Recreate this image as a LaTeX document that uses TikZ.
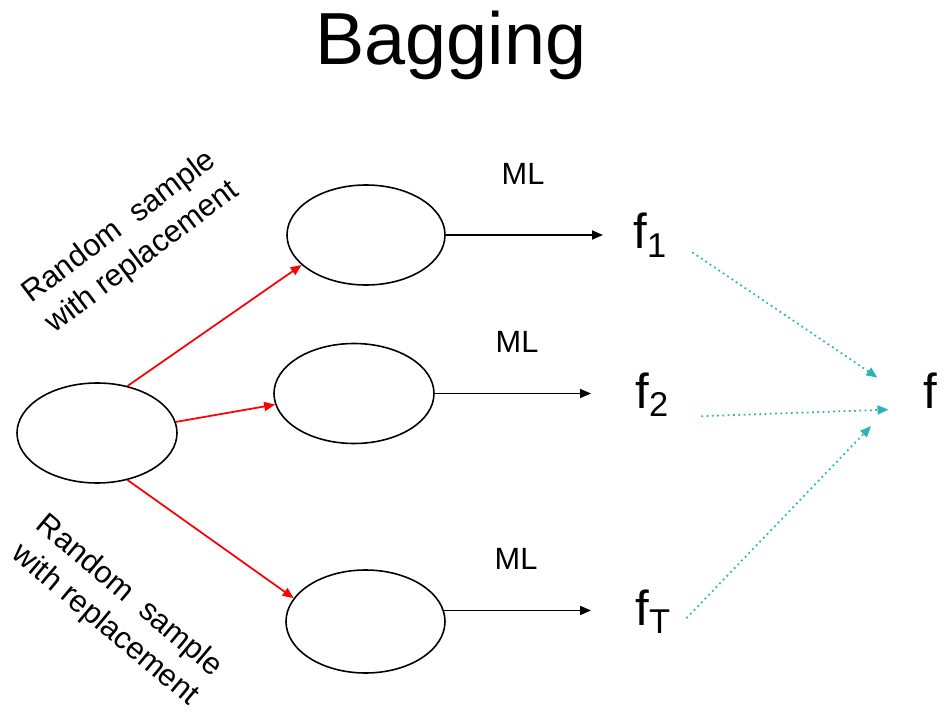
\documentclass[tikz,border=0pt]{standalone}
\usepackage{fontspec}
\setmainfont{Liberation Sans}
\usepackage{tikz}
\usepackage{xcolor}
\usetikzlibrary{arrows.meta,shapes.geometric}
\definecolor{aqua}{RGB}{40,180,185}

\begin{document}
\begin{tikzpicture}[scale=1, every node/.style={inner sep=0pt},
    bag/.style={draw, ellipse, line width=0.9pt, minimum width=3.2cm, minimum height=2cm},
    learn/.style={-{Triangle[length=2.2mm, width=1.8mm]}, line width=1pt},
    sample/.style={learn, red},
    vote/.style={-{Triangle[length=2.2mm, width=1.8mm]}, aqua, dotted, line width=1pt},
    small/.style={font=\fontsize{17.5}{21.5}\selectfont},
    big/.style={font=\fontsize{28}{34}\selectfont, anchor=base west}]
  \useasboundingbox (0, 0) rectangle (18.9, 14.22);
  \node[anchor=base, font=\fontsize{42}{50}\selectfont] (title) at (9.02, 12.92) {Bagging};
  \node[bag] (d0) at (1.94, 5.56) {};
  \node[bag, minimum width=3.16cm] (d1) at (7.32, 9.52) {};
  \node[bag] (d2) at (7.08, 6.35) {};
  \node[bag, minimum width=3.18cm, minimum height=2.06cm] (dT) at (7.31, 1.79) {};
  \node[small, rotate=37, align=center] (rs1) at (2.62, 9.37) {Random\ \ sample\\with replacement};
  \node[small, rotate=-40, align=center] (rsT) at (2.34, 2.0) {Random\ \ sample\\with replacement};
  \node[small, anchor=base] (ml1) at (10.46, 10.52) {ML};
  \node[small, anchor=base] (ml2) at (10.34, 7.18) {ML};
  \node[small, anchor=base] (mlT) at (10.32, 2.84) {ML};
  \node[big] (f1) at (12.66, 9.24) {f\textsubscript{1}};
  \node[big] (f2) at (12.70, 6.06) {f\textsubscript{2}};
  \node[big] (fT) at (12.70, 1.72) {f\textsubscript{T}};
  \node[big] (f) at (18.46, 6.06) {f};
  \draw[sample] (d0.57) -- (d1.205);
  \draw[sample] (d0.8) -- (d2.188);
  \draw[sample] (d0.303) -- (dT.162);
  \draw[learn, shorten >=0.6cm] (d1.east) -- (f1.west |- d1.east);
  \draw[learn, shorten >=0.88cm] (d2.east) -- (f2.west |- d2.east);
  \draw[learn, shorten >=0.88cm] (dT.8) -- (fT.west |- dT.8);
  \draw[vote, shorten <=0.6cm, shorten >=1.1cm] (f1.east) -- (f.south west);
  \draw[vote, shorten <=0.64cm, shorten >=0.69cm] (f2.south east) -- (f.south west);
  \draw[vote, shorten <=0.44cm, shorten >=1.5cm] (fT.south east) -- (f.north west);
\end{tikzpicture}
\end{document}
